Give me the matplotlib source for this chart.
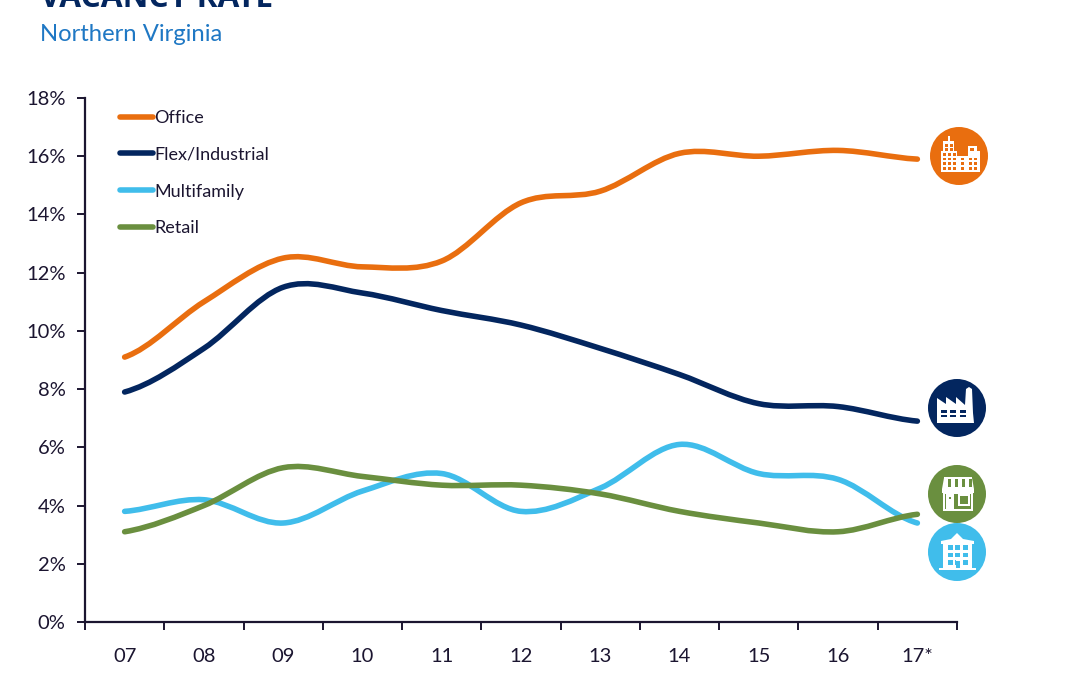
import numpy as np
from matplotlib import pyplot as plt
from matplotlib.lines import Line2D
from matplotlib.patches import Circle, PathPatch, Polygon, Rectangle
from matplotlib.path import Path

years = ['07', '08', '09', '10', '11', '12', '13', '14', '15', '16', '17*']
office = [9.1, 11.0, 12.5, 12.2, 12.4, 14.4, 14.8, 16.1, 16.0, 16.2, 15.9]
flex = [7.9, 9.4, 11.5, 11.3, 10.7, 10.2, 9.4, 8.5, 7.5, 7.4, 6.9]
multifamily = [3.8, 4.2, 3.4, 4.5, 5.1, 3.8, 4.6, 6.1, 5.1, 4.9, 3.4]
retail = [3.1, 4.0, 5.3, 5.0, 4.7, 4.7, 4.4, 3.8, 3.4, 3.1, 3.7]

ORANGE = '#E96E0F'
NAVY = '#03265F'
SKY = '#40BDEB'
GREEN = '#6A8F3F'
AXIS = '#1B1530'

plt.rcParams['font.family'] = ['Lato', 'DejaVu Sans']


def smooth_path(values):
    # excel style smoothed line, goes through every value
    y = np.array(values, dtype=float)
    x = np.arange(len(y), dtype=float)
    verts = [(x[0], y[0])]
    codes = [Path.MOVETO]
    for i in range(len(y) - 1):
        prev_y = y[max(i - 1, 0)]
        next_y = y[min(i + 2, len(y) - 1)]
        verts.append((x[i] + 1 / 3, y[i] + (y[i + 1] - prev_y) / 6))
        verts.append((x[i + 1] - 1 / 3, y[i + 1] - (next_y - y[i]) / 6))
        verts.append((x[i + 1], y[i + 1]))
        codes += [Path.CURVE4] * 3
    return Path(verts, codes)


fig = plt.figure(figsize=(10.8, 6.75), dpi=100)
ax = fig.add_axes([85 / 1080, 1 - 622 / 675, 872 / 1080, 524 / 675])

series = [('Office', office, ORANGE), ('Flex/Industrial', flex, NAVY),
          ('Multifamily', multifamily, SKY), ('Retail', retail, GREEN)]
handles = []
for name, values, color in series:
    ax.add_patch(PathPatch(smooth_path(values), fc='none', ec=color, lw=4, capstyle='round'))
    handles.append(Line2D([], [], color=color, lw=4, solid_capstyle='round', label=name))

ax.set_xlim(-0.5, len(years) - 0.5)
ax.set_ylim(0, 18)
ax.set_yticks(range(0, 20, 2))
ax.set_yticklabels(['{}%'.format(v) for v in range(0, 20, 2)])
ax.set_xticks(range(len(years)))
ax.set_xticklabels(years)
ax.set_xticks(np.arange(-0.5, len(years)), minor=True)
ax.tick_params(axis='x', which='major', length=0, pad=19, labelsize=14.5, labelcolor=AXIS)
ax.tick_params(axis='x', which='minor', length=6, width=1.4, color=AXIS)
ax.tick_params(axis='y', length=6, width=1.4, color=AXIS, pad=8, labelsize=14.5, labelcolor=AXIS)
for side in ['top', 'right']:
    ax.spines[side].set_visible(False)
for side in ['left', 'bottom']:
    ax.spines[side].set_linewidth(1.6)
    ax.spines[side].set_color(AXIS)

leg = ax.legend(handles=handles, loc='upper left', bbox_to_anchor=(35 / 872, 1 - 12 / 524), frameon=False,
                fontsize=13, labelcolor=AXIS, handlelength=1.85, handletextpad=0.05, labelspacing=1.15,
                borderaxespad=0, borderpad=0)

fig.text(40 / 1080, 1 - 7 / 675, 'VACANCY RATE', family=['Open Sans', 'DejaVu Sans'], fontsize=22.8,
         fontweight='bold', color=NAVY, va='baseline')
fig.text(40 / 1080, 1 - 41 / 675, 'Northern Virginia', family=['Lato', 'DejaVu Sans'], fontsize=17.2,
         color='#1F78C4', va='baseline')

# icons on an overlay in pixel coordinates
ov = fig.add_axes([0, 0, 1, 1], facecolor='none')
ov.set_xlim(0, 1080)
ov.set_ylim(675, 0)
ov.axis('off')


def rect(x, y, w, h, color='white'):
    ov.add_patch(Rectangle((x, y), w, h, fc=color, ec='none'))


def office_icon(cx, cy):
    ov.add_patch(Circle((cx, cy), 29, fc=ORANGE, ec='none'))
    rect(cx - 18, cy - 5, 16, 21)
    rect(cx - 2, cy, 11, 16)
    rect(cx + 9, cy - 5, 12, 21)
    rect(cx - 16, cy - 15, 11, 10)
    rect(cx - 11, cy - 20, 2, 6)
    rect(cx + 9, cy - 10, 9, 5)
    rect(cx - 18, cy + 13, 39, 3)
    for row in range(4):
        for col in range(3):
            rect(cx - 16 + col * 5, cy - 3 + row * 4.6, 3, 2.8, ORANGE)
    for row in range(3):
        rect(cx + 2, cy + 1.6 + row * 4.6, 2.6, 2.8, ORANGE)
        for col in range(2):
            rect(cx + 10 + col * 5, cy + 1.6 + row * 4.6, 3, 2.8, ORANGE)
    for col in range(2):
        rect(cx - 14 + col * 5, cy - 12, 3, 2.8, ORANGE)
        rect(cx - 14 + col * 5, cy - 8, 3, 2.8, ORANGE)
    rect(cx + 11, cy - 8, 4, 3, ORANGE)


def factory_icon(cx, cy):
    ov.add_patch(Circle((cx, cy), 29, fc=NAVY, ec='none'))
    ov.add_patch(Polygon([(cx - 20, cy + 15), (cx - 20, cy - 10), (cx - 11, cy - 4), (cx - 11, cy - 11), (cx - 1, cy - 4),
                          (cx - 1, cy - 11), (cx + 8, cy - 3), (cx + 9, cy - 19), (cx + 12, cy - 21),
                          (cx + 15, cy - 19), (cx + 16, cy + 5), (cx + 17, cy + 15)], fc='white', ec='none'))
    for col in range(3):
        rect(cx - 16 + col * 9.3, cy + 2, 6, 2.7, NAVY)
        rect(cx - 16 + col * 9.3, cy + 6.5, 6, 2.7, NAVY)


def shop_icon(cx, cy):
    ov.add_patch(Circle((cx, cy), 29, fc=GREEN, ec='none'))
    # awning
    rect(cx - 13, cy - 17, 28, 1.5)
    ov.add_patch(Polygon([(cx - 13, cy - 16), (cx + 15, cy - 16), (cx + 17, cy - 5), (cx - 15, cy - 5)],
                         fc='white', ec='none'))
    for col in range(4):
        rect(cx - 9.5 + col * 7.3, cy - 15, 3, 8, GREEN)
    rect(cx - 15, cy - 5, 32, 3.5)
    # shop front
    rect(cx - 14, cy - 2, 30, 19)
    rect(cx - 12, cy, 26, 14.5, GREEN)
    rect(cx - 11, cy, 8, 14.5)
    rect(cx - 1, cy, 14, 14, GREEN)
    rect(cx + 1, cy, 12, 12)
    rect(cx + 3, cy + 2, 8, 8, GREEN)
    rect(cx - 8, cy + 3, 2, 2, GREEN)


def apartment_icon(cx, cy):
    ov.add_patch(Circle((cx, cy), 29, fc=SKY, ec='none'))
    ov.add_patch(Polygon([(cx - 16, cy - 11), (cx - 6, cy - 13), (cx, cy - 19), (cx + 6, cy - 13), (cx + 17, cy - 11),
                          (cx + 17, cy - 8), (cx - 16, cy - 8)], fc='white', ec='none'))
    rect(cx - 14, cy - 9, 29, 26)
    rect(cx - 18, cy + 16, 37, 2)
    for col in range(3):
        for row in range(3):
            rect(cx - 9 + col * 7.3, cy - 7 + row * 7.5, 5, 4.8, SKY)
    rect(cx - 1.5, cy + 9, 4.5, 7, SKY)
    rect(cx - 1.5, cy + 8, 4.5, 0.8, 'white')


office_icon(959, 156)
factory_icon(957, 408)
shop_icon(957, 494)
apartment_icon(957, 552)

fig.savefig('out.png', dpi=100, facecolor='white')
